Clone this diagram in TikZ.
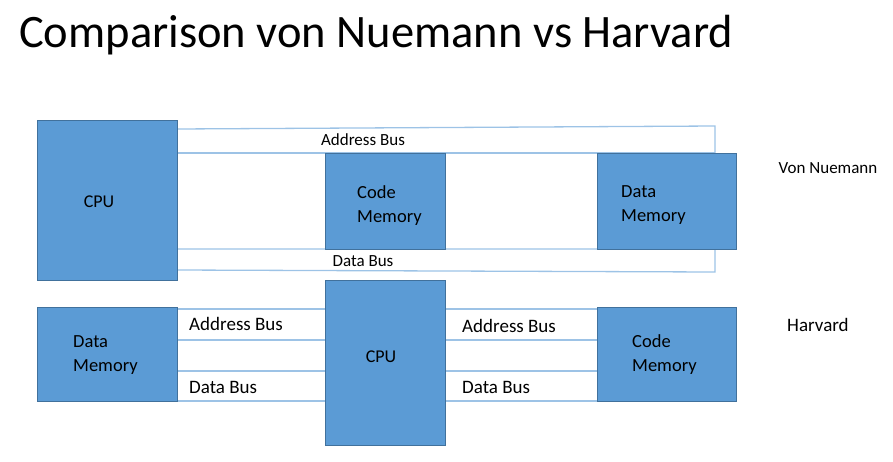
\documentclass[tikz,border=0pt]{standalone}
\usepackage{fontspec}
\setmainfont{Carlito}
\definecolor{boxfill}{RGB}{91,155,213}
\definecolor{boxline}{RGB}{65,113,156}
\definecolor{busline}{RGB}{157,195,230}
\begin{document}
\begin{tikzpicture}[x=1pt,y=-1pt,
  blk/.style={draw=boxline,fill=boxfill,line width=0.6pt},
  bus/.style={draw=busline,line width=1.3pt},
  lbl/.style={inner sep=0pt,font=\fontsize{17}{20}\selectfont},
  mlbl/.style={inner sep=0pt,anchor=west,font=\fontsize{18.5}{24}\selectfont,align=left},
  blbl/.style={inner sep=0pt,anchor=west,font=\fontsize{19}{22}\selectfont}]
\useasboundingbox (0,0) rectangle (893,461);
\node[anchor=base west,inner sep=0pt,font=\fontsize{46.5}{56}\selectfont] (title) at (19,47) {Comparison von Nuemann vs Harvard};

% ---- Von Neumann ----
\coordinate (ab1) at (177,129);
\coordinate (ab2) at (715,126);
\coordinate (ab3) at (715,153);
\coordinate (ab4) at (177,153);
\draw[bus] (ab1) -- (ab2) -- (ab3);
\draw[bus] (ab4) -- (ab3);
\coordinate (db1) at (177,249);
\coordinate (db2) at (715,249);
\coordinate (db3) at (715,272);
\coordinate (db4) at (177,270);
\draw[bus] (db1) -- (db2) -- (db3) -- (db4);

\path[blk] (37,120) rectangle (177,280);
\node[lbl,font=\fontsize{18}{22}\selectfont] (cpu1) at (99,202) {CPU};
\path[blk] (325,153) rectangle (445,249);
\node[mlbl] (cm1) at (357,206) {Code\\Memory};
\path[blk] (597,153) rectangle (736,249);
\node[mlbl] (dm1) at (621,205.5) {Data\\Memory};
\node[lbl] (abl1) at (363,140) {Address Bus};
\node[lbl] (dbl1) at (363,261) {Data Bus};
\node[lbl] (vn) at (828,168) {Von Nuemann};

% ---- Harvard ----
\foreach \y in {309,340,371,401} {
  \draw[bus] (177,\y) -- (325,\y);
  \draw[bus] (445,\y) -- (597,\y);
}
\path[blk] (37,307) rectangle (177,401);
\node[mlbl] (dm2) at (73,355) {Data\\Memory};
\path[blk] (325,280) rectangle (445,445);
\node[lbl,font=\fontsize{18}{22}\selectfont] (cpu2) at (381,357) {CPU};
\path[blk] (597,307) rectangle (736,401);
\node[mlbl] (cm2) at (632,355) {Code\\Memory};
\node[blbl] (abl2) at (189,324) {Address Bus};
\node[blbl] (dbl2) at (189,387) {Data Bus};
\node[blbl] (abl3) at (462,326) {Address Bus};
\node[blbl] (dbl3) at (462,387) {Data Bus};
\node[blbl] (hv) at (787,325) {Harvard};
\end{tikzpicture}
\end{document}
